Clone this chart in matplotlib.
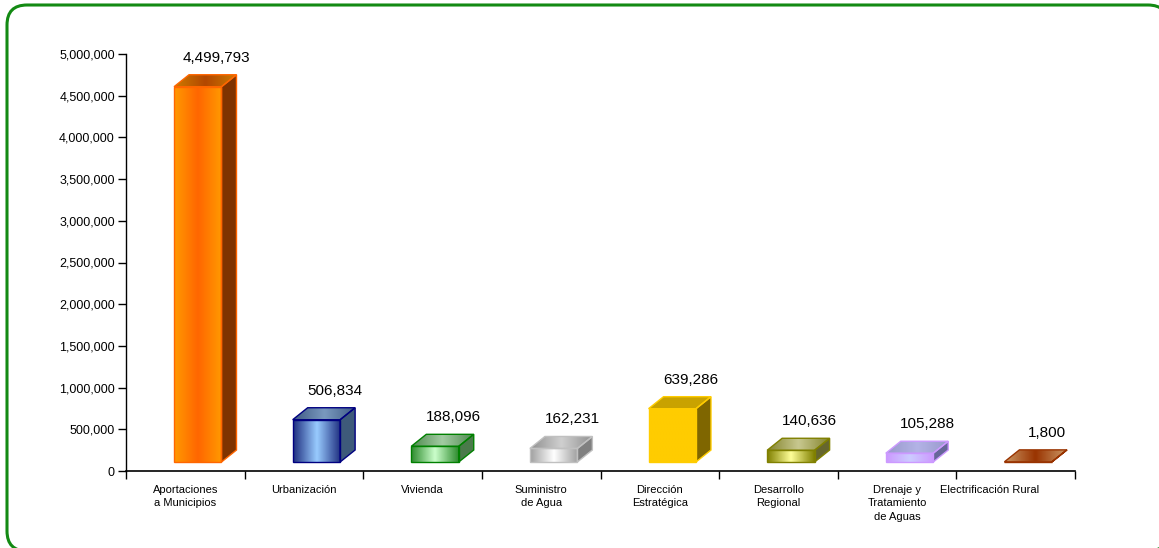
import numpy as np
import matplotlib
matplotlib.use("Agg")
import matplotlib.pyplot as plt
import matplotlib.transforms as mtransforms
from matplotlib.patches import Polygon, FancyBboxPatch
from matplotlib.colors import LinearSegmentedColormap

plt.rcParams["font.family"] = ["Liberation Sans", "DejaVu Sans"]

# datos
categorias = ["Aportaciones\na Municipios", "Urbanización", "Vivienda", "Suministro\nde Agua",
              "Dirección\nEstratégica", "Desarrollo\nRegional", "Drenaje y\nTratamiento\nde Aguas",
              "Electrificación Rural"]
montos = [4499793, 506834, 188096, 162231, 639286, 140636, 105288, 1800]

# colores: borde, frente (gradiente), arriba (gradiente), lado
bordes = ["#FF6600", "#000080", "#008000", "#C0C0C0", "#FFCC00", "#808000", "#CC99FF", "#993300"]
frentes = [["#FF9900", "#FF6600", "#FF9900"],
           ["#1F2F80", "#99CCFF", "#1F2F80"],
           ["#2E8B2E", "#CCFFCC", "#2E8B2E"],
           ["#A0A0A0", "#FFFFFF", "#A0A0A0"],
           ["#FFCC00", "#FFCC00", "#FFCC00"],
           ["#808000", "#FFFF99", "#808000"],
           ["#CC99FF", "#CCCCFF", "#CC99FF"],
           ["#CC9966", "#993300", "#CC9966"]]
techos = [["#CC7A00", "#B34700", "#CC7A00"],
          ["#3F5A85", "#7A9ABF", "#3F5A85"],
          ["#4F8A4F", "#A3CCA3", "#4F8A4F"],
          ["#909090", "#D0D0D0", "#909090"],
          ["#C9A200", "#C9A200", "#C9A200"],
          ["#85852E", "#C8C890", "#85852E"],
          ["#9999CC", "#B3B3E6", "#9999CC"],
          ["#CC9966", "#993300", "#CC9966"]]
lados = ["#7F3300", "#3E5A7A", "#4A7A4A", "#808080", "#7F6600", "#66662E", "#666699", "#7F2A00"]

fig = plt.figure(figsize=(11.59, 5.48), dpi=100)
ax = fig.add_axes([126/1159, 1-471/548, 949/1159, 417/548])

px_x = 949/8.0          # pixeles por categoria
px_y = 417/5000000.0    # pixeles por unidad
dx = 15/px_x
dy = 12/px_y
base = 9/px_y
ancho = 0.40
desp = 0.105

x = np.arange(len(categorias))


def gradiente(poly, cols):
    cmap = LinearSegmentedColormap.from_list("g", cols)
    v = poly.get_xy()
    im = ax.imshow(np.linspace(0, 1, 64).reshape(1, -1), cmap=cmap,
                   extent=(v[:, 0].min(), v[:, 0].max(), v[:, 1].min(), v[:, 1].max()),
                   aspect="auto", origin="lower", interpolation="bilinear", zorder=2)
    im.set_clip_path(poly)


barras = ax.bar(x + desp, montos, width=ancho, bottom=base, facecolor="none", linewidth=0)

for i, b in enumerate(barras):
    x0 = b.get_x()
    x1 = x0 + b.get_width()
    y0 = b.get_y()
    y1 = y0 + b.get_height()
    lado = Polygon([(x1, y0), (x1 + dx, y0 + dy), (x1 + dx, y1 + dy), (x1, y1)],
                   facecolor=lados[i], edgecolor=bordes[i], lw=1, zorder=3)
    ax.add_patch(lado)
    techo = Polygon([(x0, y1), (x1, y1), (x1 + dx, y1 + dy), (x0 + dx, y1 + dy)],
                    facecolor="none", edgecolor=bordes[i], lw=1, zorder=3)
    ax.add_patch(techo)
    gradiente(techo, techos[i])
    frente = Polygon([(x0, y0), (x1, y0), (x1, y1), (x0, y1)],
                     facecolor="none", edgecolor=bordes[i], lw=1, zorder=3)
    ax.add_patch(frente)
    gradiente(frente, frentes[i])
    ax.annotate("{:,}".format(montos[i]), (x[i] + 0.26, y1 + dy), xytext=(0, 17),
                textcoords="offset pixels", ha="center", va="center", fontsize=11)

ax.set_xlim(-0.5, 7.5)
ax.set_ylim(0, 5000000)
ax.set_yticks(np.arange(0, 5000001, 500000))
ax.set_yticklabels(["{:,}".format(v) for v in range(0, 5000001, 500000)], fontsize=9)
ax.set_xticks(x)
ax.set_xticklabels(categorias, fontsize=8, linespacing=1.45)
ax.set_xticks(np.arange(-0.5, 8.0, 1), minor=True)
ax.tick_params(axis="x", which="major", length=0, pad=10)
ax.tick_params(axis="x", which="minor", length=6, width=1, direction="out")
ax.tick_params(axis="y", length=6, width=1, direction="out", pad=2)
for s in ["top", "right"]:
    ax.spines[s].set_visible(False)
ax.spines["left"].set_linewidth(1)
ax.spines["bottom"].set_linewidth(1.2)

# la ultima etiqueta queda corrida a la izquierda
ult = ax.get_xticklabels()[-1]
ult.set_transform(ult.get_transform() + mtransforms.ScaledTranslation(-0.26, 0, fig.dpi_scale_trans))

# marco verde redondeado (en pixeles), detras de los ejes
marco = FancyBboxPatch((7, -3), 1161, 546, boxstyle="round,pad=0,rounding_size=20",
                       transform=None, facecolor="white", edgecolor="#138A13", linewidth=2.2,
                       zorder=-1)
fig.add_artist(marco)

fig.savefig("out.png", dpi=100)
